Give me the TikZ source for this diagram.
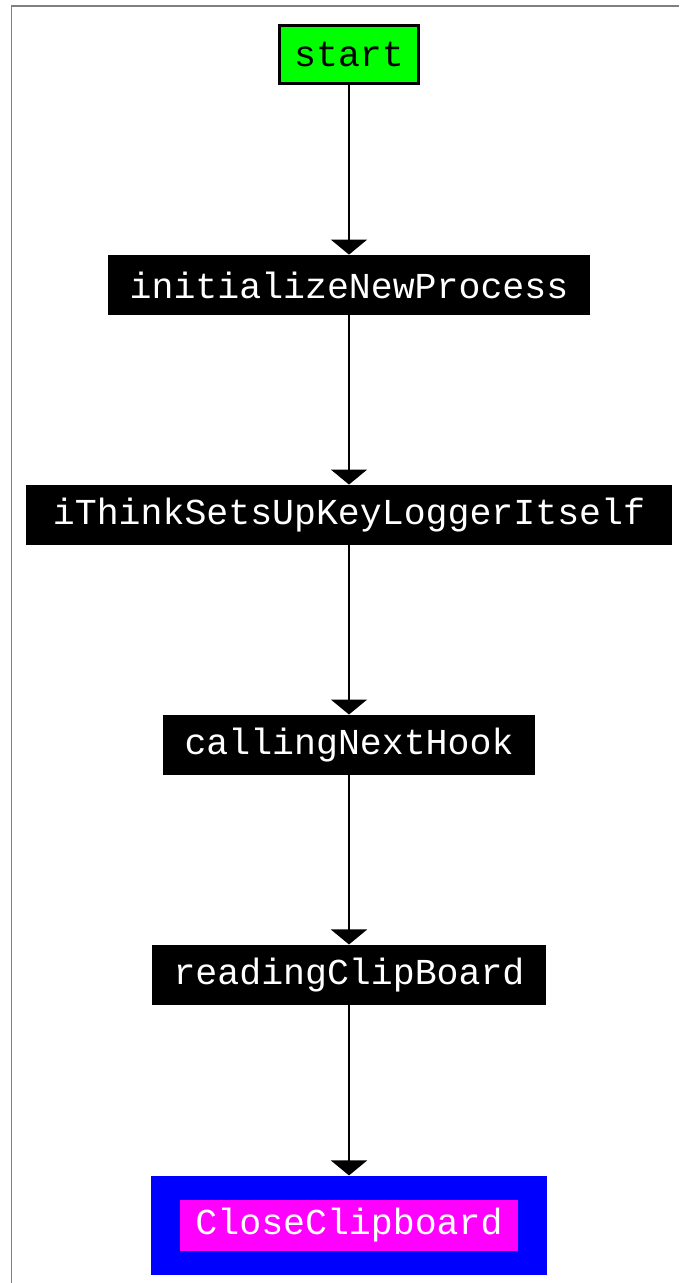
\documentclass[tikz,border=0pt]{standalone}
\usepackage{fontspec}
\setmonofont{Liberation Mono}
\usepackage{tikz}
\usetikzlibrary{shapes.geometric, arrows.meta}
\definecolor{pinkish}{RGB}{255,0,255}
\definecolor{brightgreen}{RGB}{0,255,0}
\tikzstyle{hook} = [rectangle, minimum height=1.2cm, inner xsep=0.44cm, text centered, fill=black, text=white, font=\ttfamily\fontsize{20.8}{24}\selectfont]
\tikzstyle{startbox} = [hook, fill=brightgreen, draw=black, line width=0.06cm, text=black, minimum height=1.16cm, inner xsep=0.3cm]
\tikzstyle{arrow} = [line width=0.04cm, -{Triangle[width=0.72cm,length=0.3cm]}]

\begin{document}
\begin{tikzpicture}[x=0.02cm, y=-0.02cm, node distance=4.6cm]
  \useasboundingbox (0,0) rectangle (679,1283);
  \draw[gray, line width=0.04cm] (11.5,1283) -- (11.5,6.5) -- (679,6.5);

  % Nodes
  \node (start) [startbox] at (349,55) {start};
  \node (init) [hook, below of=start] {initializeNewProcess};
  \node (think) [hook, below of=init, inner xsep=0.54cm] {iThinkSetsUpKeyLoggerItself};
  \node (hook) [hook, below of=think] {callingNextHook};
  \node (read) [hook, below of=hook] {readingClipBoard};

  % Last one (blue frame round a magenta box)
  \node (closeframe) [below of=read, node distance=5.01cm, fill=blue, minimum width=7.92cm, minimum height=1.98cm] {};
  \node (close) [hook, fill=pinkish, minimum height=1.02cm, inner xsep=0.3cm] at (closeframe) {CloseClipboard};

  % Arrows
  \draw [arrow] (start) -- (init);
  \draw [arrow] (init) -- (think);
  \draw [arrow] (think) -- (hook);
  \draw [arrow] (hook) -- (read);
  \draw [arrow] (read) -- (closeframe);

\end{tikzpicture}
\end{document}
